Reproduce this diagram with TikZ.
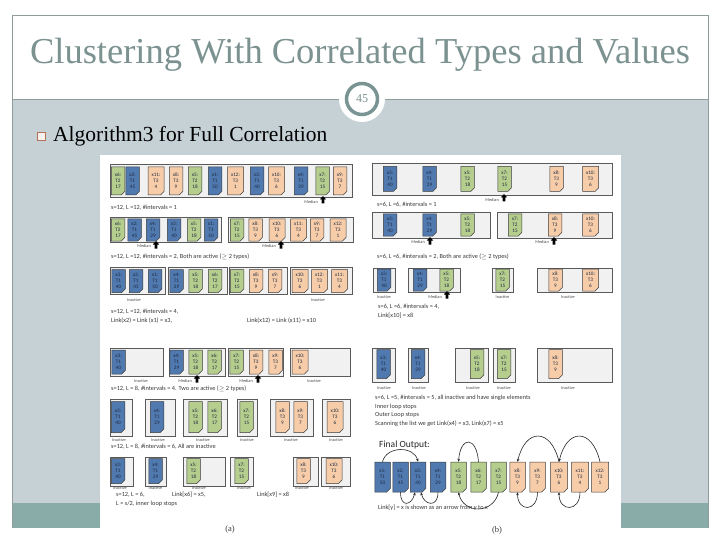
\documentclass[tikz,border=0pt]{standalone}
\usepackage{fontspec}
\setmainfont{Liberation Serif}
\newfontfamily\figf{Carlito}
\usetikzlibrary{shapes.misc,arrows.meta}
\definecolor{panel}{HTML}{C6D1D6}
\definecolor{bar}{HTML}{8AACA8}
\definecolor{ttl}{HTML}{7C9291}
\definecolor{framec}{HTML}{8E9C9C}
\definecolor{ring}{HTML}{7A9494}
\definecolor{bul}{HTML}{B5705A}
\definecolor{eb}{HTML}{5079AF}
\definecolor{eg}{HTML}{B5CD8D}
\definecolor{eo}{HTML}{F7CDA9}
\definecolor{eline}{HTML}{3C3C3C}
\definecolor{etext}{HTML}{1E2A40}
\definecolor{bline}{HTML}{5A5A5A}
\definecolor{bfill}{HTML}{F1F1F1}
\definecolor{captc}{HTML}{3A3A3A}
\definecolor{labc}{HTML}{4A4A4A}
\def\wone{13.5}
\def\wtwo{16}
\newcommand{\xel}[5]{%
  \ifcase#4\relax\or
    \def\xty{T1}\def\xva{50}\def\xco{eb}\or
    \def\xty{T1}\def\xva{45}\def\xco{eb}\or
    \def\xty{T1}\def\xva{40}\def\xco{eb}\or
    \def\xty{T1}\def\xva{29}\def\xco{eb}\or
    \def\xty{T2}\def\xva{18}\def\xco{eg}\or
    \def\xty{T2}\def\xva{17}\def\xco{eg}\or
    \def\xty{T2}\def\xva{15}\def\xco{eg}\or
    \def\xty{T3}\def\xva{9}\def\xco{eo}\or
    \def\xty{T3}\def\xva{7}\def\xco{eo}\or
    \def\xty{T3}\def\xva{6}\def\xco{eo}\or
    \def\xty{T3}\def\xva{4}\def\xco{eo}\or
    \def\xty{T3}\def\xva{1}\def\xco{eo}\fi
  \ifnum#4>9\relax\let\xew\wtwo\else\let\xew\wone\fi
  \node[elem,fill=\xco,minimum width=\xew pt,minimum height=#5pt] (#1) at (#2,#3) {x#4:\\\xty\\\xva};}
\begin{document}
\begin{tikzpicture}[x=1pt,y=-1pt,
  elem/.style={chamfered rectangle, chamfered rectangle corners=south east,
    chamfered rectangle xsep=1.8pt, chamfered rectangle ysep=1.8pt,
    draw=eline, line width=0.5pt, inner sep=0pt, align=center, text=etext,
    font=\figf\fontsize{5.2}{6}\selectfont},
  ibox/.style={draw=bline, fill=bfill, line width=0.6pt},
  captx/.style={anchor=west, inner sep=0pt, font=\figf\fontsize{6.3}{7}\selectfont, text=captc},
  labtx/.style={inner sep=0pt, font=\figf\fontsize{4.3}{5}\selectfont, text=labc},
  farr/.style={-{Stealth[length=3pt,width=2.6pt]}, line width=0.6pt, draw=black!85},
  marr/.pic={\fill[black] (0,0) -- (3.2,3.5) -- (1.4,3.5) -- (1.4,7.5) -- (-1.4,7.5) -- (-1.4,3.5) -- (-3.2,3.5) -- cycle;}
]
\useasboundingbox (0,0) rectangle (720,540);
\fill[white] (0,0) rectangle (720,540);
% slide frame and panels
\draw[framec, line width=0.8pt] (12,100) -- (12,15) -- (708,15) -- (708,100);
\fill[panel] (12,100) rectangle (708,503);
\fill[bar] (12,503) rectangle (708,528);
\draw[framec, line width=0.6pt] (12,100) -- (12,528) (708,100) -- (708,528);
\draw[framec, line width=0.9pt] (12,99.5) -- (708,99.5);
\node[circle, fill=white, minimum size=46pt, inner sep=0pt] (pcirc) at (362,99) {};
\node[circle, draw=ring, line width=3.5pt, minimum size=31pt, inner sep=0pt,
  font=\fontsize{12}{14}\selectfont, text=ttl] (pnum) at (362,99) {45};
\node[font=\fontsize{36.5}{42}\selectfont, text=ttl] (title) at (360,55) {Clustering With Correlated Types and Values};
\node[draw=bul, fill=white!90!bul, line width=0.6pt, minimum size=8pt, inner sep=0pt] (bsq) at (41,136) {};
\node[anchor=west, inner sep=0pt, font=\fontsize{21.5}{25}\selectfont] (btxt) at (53,136) {Algorithm3 for Full Correlation};
% embedded figure
\fill[white] (100,155) rectangle (621,540);

% ---------- (a) row 1
\draw[ibox] (110,164) rectangle (352,197);
\xel{a1e6}{118}{181}{6}{28}
\xel{a1e2}{132.5}{181}{2}{28}
\xel{a1e11}{156}{181}{11}{28}
\xel{a1e8}{176}{181}{8}{28}
\xel{a1e5}{195}{181}{5}{28}
\xel{a1e1}{215}{181}{1}{28}
\xel{a1e12}{235.5}{181}{12}{28}
\xel{a1e3}{257}{181}{3}{28}
\xel{a1e10}{276.5}{181}{10}{28}
\xel{a1e4}{301}{181}{4}{28}
\xel{a1e7}{322.5}{181}{7}{28}
\xel{a1e9}{340}{181}{9}{28}
\pic at (323,196) {marr};
\node[labtx, anchor=east] (a1m) at (318,202) {Median};
\node[captx] (a1t) at (111,208) {s=12, L =12, \#intervals = 1};

% ---------- (a) row 2
\draw[ibox] (110,217) rectangle (221,242);
\draw[ibox] (228,217) rectangle (353,242);
\xel{a2e6}{118}{230}{6}{22}
\xel{a2e2}{134.5}{230}{2}{22}
\xel{a2e4}{153}{230}{4}{22}
\xel{a2e3}{174}{230}{3}{22}
\xel{a2e5}{194}{230}{5}{22}
\xel{a2e1}{211}{230}{1}{22}
\xel{a2e7}{237}{230}{7}{22}
\xel{a2e8}{255.5}{230}{8}{22}
\xel{a2e10}{277}{230}{10}{22}
\xel{a2e11}{298.5}{230}{11}{22}
\xel{a2e9}{317}{230}{9}{22}
\xel{a2e12}{338}{230}{12}{22}
\pic at (156,241) {marr};
\node[labtx, anchor=east] (a2m1) at (151,246) {Median};
\pic at (281,241) {marr};
\node[labtx, anchor=east] (a2m2) at (276,246) {Median};
\node[captx] (a2t) at (111,257) {s=12, L =12, \#intervals = 2, Both are active (\ensuremath{\geq} 2 types)};

% ---------- (a) row 3
\draw[ibox] (110,267) rectangle (165,294);
\draw[ibox] (168,267) rectangle (227,294);
\draw[ibox] (229,267) rectangle (287,294);
\draw[ibox] (290,267) rectangle (352,294);
\xel{a3e3}{118.5}{281}{3}{23}
\xel{a3e2}{136}{281}{2}{23}
\xel{a3e1}{155}{281}{1}{23}
\xel{a3e4}{176.5}{281}{4}{23}
\xel{a3e5}{195.5}{281}{5}{23}
\xel{a3e6}{215}{281}{6}{23}
\xel{a3e7}{237}{281}{7}{23}
\xel{a3e8}{256}{281}{8}{23}
\xel{a3e9}{275}{281}{9}{23}
\xel{a3e10}{300}{281}{10}{23}
\xel{a3e12}{319.5}{281}{12}{23}
\xel{a3e11}{339.5}{281}{11}{23}
\node[labtx] (a3i1) at (134,300) {Inactive};
\node[labtx] (a3i2) at (318,300) {Inactive};
\node[captx] (a3t1) at (111,312) {s=12, L =12, \#intervals = 4,};
\node[captx] (a3t2) at (111,321) {Link(x2) = Link (x1) = x3,};
\node[captx] (a3t3) at (247,321) {Link(x12) = Link (x11) = x10};

% ---------- (a) row 4
\draw[ibox] (110,348) rectangle (163,376);
\draw[ibox] (169,348) rectangle (225,376);
\draw[ibox] (228,348) rectangle (283,376);
\draw[ibox] (290,348) rectangle (350,376);
\xel{a4e3}{118.5}{362}{3}{24}
\xel{a4e4}{176.5}{362}{4}{24}
\xel{a4e5}{195.5}{362}{5}{24}
\xel{a4e6}{214.5}{362}{6}{24}
\xel{a4e7}{236.5}{362}{7}{24}
\xel{a4e8}{256}{362}{8}{24}
\xel{a4e9}{275.5}{362}{9}{24}
\xel{a4e10}{300}{362}{10}{24}
\node[labtx] (a4i1) at (141,381) {Inactive};
\pic at (197,375) {marr};
\node[labtx, anchor=east] (a4m1) at (192,381) {Median};
\pic at (258,375) {marr};
\node[labtx, anchor=east] (a4m2) at (253,381) {Median};
\node[labtx] (a4i2) at (314,381) {Inactive};
\node[captx] (a4t) at (111,389) {s=12, L = 8, \#intervals = 4. Two are active (\ensuremath{\geq} 2 types)};

% ---------- (a) row 5
\draw[ibox] (110,399) rectangle (132,436);
\draw[ibox] (145,399) rectangle (175,436);
\draw[ibox] (183,399) rectangle (227,436);
\draw[ibox] (237,399) rectangle (257,436);
\draw[ibox] (270,399) rectangle (313,436);
\draw[ibox] (322,399) rectangle (350,436);
\xel{a5e3}{118}{417}{3}{31}
\xel{a5e4}{157}{417}{4}{31}
\xel{a5e5}{195.5}{417}{5}{31}
\xel{a5e6}{214.5}{417}{6}{31}
\xel{a5e7}{246.5}{417}{7}{31}
\xel{a5e8}{282.5}{417}{8}{31}
\xel{a5e9}{300.5}{417}{9}{31}
\xel{a5e10}{335}{417}{10}{31}
\node[labtx] (a5i1) at (119,440) {Inactive};
\node[labtx] (a5i2) at (158,440) {Inactive};
\node[labtx] (a5i3) at (203,440) {Inactive};
\node[labtx] (a5i4) at (247,440) {Inactive};
\node[labtx] (a5i5) at (291,440) {Inactive};
\node[labtx] (a5i6) at (336,440) {Inactive};
\node[captx] (a5t) at (111,447) {s=12, L = 8, \#intervals = 6, All are inactive};

% ---------- (a) row 6
\draw[ibox] (110,457) rectangle (133,486);
\draw[ibox] (145,457) rectangle (166,486);
\draw[ibox] (183,457) rectangle (225,486);
\draw[ibox] (230,457) rectangle (253,486);
\draw[ibox] (293,457) rectangle (318,486);
\draw[ibox] (321,457) rectangle (350,486);
\xel{a6e3}{118}{471}{3}{25}
\xel{a6e4}{155.5}{471}{4}{25}
\xel{a6e5}{193.5}{471}{5}{25}
\xel{a6e7}{241.5}{471}{7}{25}
\xel{a6e8}{303.5}{471}{8}{25}
\xel{a6e10}{334}{471}{10}{25}
\node[labtx] (a6i1) at (120,488.5) {Inactive};
\node[labtx] (a6i2) at (155.5,488.5) {Inactive};
\node[labtx] (a6i3) at (199,488.5) {Inactive};
\node[labtx] (a6i4) at (244,488.5) {Inactive};
\node[labtx] (a6i5) at (302,488.5) {Inactive};
\node[labtx] (a6i6) at (336,488.5) {Inactive};
\node[captx] (a6t1) at (116,495) {s=12, L = 6,};
\node[captx] (a6t2) at (172,495) {Link[x6] = x5,};
\node[captx] (a6t3) at (257,495) {Link[x9] = x8};
\node[captx] (a6t4) at (116,504) {L = s/2, inner loop stops};
\node[font=\fontsize{8.5}{10}\selectfont, text=captc] (capa) at (230,529) {(a)};

% ---------- (b) row 1
\draw[ibox] (372,163) rectangle (612,195);
\xel{b1e3}{390}{179}{3}{25}
\xel{b1e4}{429.5}{179}{4}{25}
\xel{b1e5}{467.5}{179}{5}{25}
\xel{b1e7}{504.5}{179}{7}{25}
\xel{b1e8}{556.5}{179}{8}{25}
\xel{b1e10}{590.5}{179}{10}{25}
\pic at (504,194) {marr};
\node[labtx, anchor=east] (b1m) at (499,200) {Median};
\node[captx] (b1t) at (377,205) {s=6, L =6, \#intervals = 1};

% ---------- (b) row 2
\draw[ibox] (372,212) rectangle (490,238);
\draw[ibox] (497,212) rectangle (612,238);
\xel{b2e3}{390}{225}{3}{22}
\xel{b2e4}{429.5}{225}{4}{22}
\xel{b2e5}{467.5}{225}{5}{22}
\xel{b2e7}{515}{225}{7}{22}
\xel{b2e8}{555}{225}{8}{22}
\xel{b2e10}{590.5}{225}{10}{22}
\pic at (430,237) {marr};
\node[labtx, anchor=east] (b2m1) at (425,242) {Median};
\pic at (554,237) {marr};
\node[labtx, anchor=east] (b2m2) at (549,242) {Median};
\node[captx] (b2t) at (377,257) {s=6, L =6, \#intervals = 2, Both are active (\ensuremath{\geq} 2 types)};

% ---------- (b) row 3
\draw[ibox] (373,268) rectangle (395,292);
\draw[ibox] (408,268) rectangle (460,292);
\draw[ibox] (492,268) rectangle (513,292);
\draw[ibox] (537,268) rectangle (612,292);
\xel{b3e3}{384}{280}{3}{22}
\xel{b3e4}{420}{280}{4}{22}
\xel{b3e5}{446.5}{280}{5}{22}
\xel{b3e7}{502.5}{280}{7}{22}
\xel{b3e8}{555.5}{280}{8}{22}
\xel{b3e10}{590.5}{280}{10}{22}
\node[labtx] (b3i1) at (384,297) {Inactive};
\pic at (447,291) {marr};
\node[labtx, anchor=east] (b3m) at (442,297) {Median};
\node[labtx] (b3i2) at (502.5,297) {Inactive};
\node[labtx] (b3i3) at (568,297) {Inactive};
\node[captx] (b3t1) at (378,307) {s=6, L =6, \#intervals = 4,};
\node[captx] (b3t2) at (378,315.5) {Link[x10] = x8};

% ---------- (b) row 4
\draw[ibox] (372,348) rectangle (395,382);
\draw[ibox] (408,348) rectangle (428,382);
\draw[ibox] (455,348) rectangle (488,382);
\draw[ibox] (493,348) rectangle (515,382);
\draw[ibox] (537,348) rectangle (612,382);
\xel{b4e3}{383.5}{364}{3}{29}
\xel{b4e4}{418}{364}{4}{29}
\xel{b4e5}{477}{364}{5}{29}
\xel{b4e7}{504}{364}{7}{29}
\xel{b4e8}{555.5}{364}{8}{29}
\node[labtx] (b4i1) at (384,388) {Inactive};
\node[labtx] (b4i2) at (419,388) {Inactive};
\node[labtx] (b4i3) at (473,388) {Inactive};
\node[labtx] (b4i4) at (504,388) {Inactive};
\node[labtx] (b4i5) at (568,388) {Inactive};
\node[captx] (b4t1) at (375,398) {s=6, L =5, \#intervals = 5, all inactive and have single elements};
\node[captx] (b4t2) at (375,406.5) {Inner loop stops};
\node[captx] (b4t3) at (375,415) {Outer Loop stops};
\node[captx] (b4t4) at (375,423.5) {Scanning the list we get Link(x4) = x3, Link(x7) = x5};

% ---------- (b) final output
\node[anchor=west, inner sep=0pt, font=\figf\fontsize{9.5}{11}\selectfont, text=black!85] (fout) at (379,445) {Final Output:};
\def\wone{15.5}
\def\wtwo{17}
\xel{f1}{382.5}{477}{1}{30}
\xel{f2}{400.5}{477}{2}{30}
\xel{f3}{418}{477}{3}{30}
\xel{f4}{438}{477}{4}{30}
\xel{f5}{458.5}{477}{5}{30}
\xel{f6}{478.5}{477}{6}{30}
\xel{f7}{498.5}{477}{7}{30}
\xel{f8}{517.5}{477}{8}{30}
\xel{f9}{537.5}{477}{9}{30}
\xel{f10}{559}{477}{10}{30}
\xel{f11}{580}{477}{11}{30}
\xel{f12}{600}{477}{12}{30}
\draw[farr] (f1.north) .. controls +(4,-16) and +(-4,-16) .. (f3.north);
\draw[farr] (f6.north) .. controls +(-2,-26) and +(2,-26) .. (f5.north);
\draw[farr] (f10.north) .. controls +(-8,-34) and +(8,-34) .. (f8.north);
\draw[farr] (f12.north) .. controls +(-8,-34) and +(8,-34) .. (f10.north);
\draw[farr] (f2.south) .. controls +(0,16) and +(-3,13) .. ([xshift=-3pt]f3.south);
\draw[farr] (f4.south) .. controls +(0,16) and +(3,13) .. ([xshift=3pt]f3.south);
\draw[farr] (f7.south) .. controls +(-5,22) and +(5,22) .. (f5.south);
\draw[farr] (f9.south) .. controls +(0,20) and +(0,20) .. (f8.south);
\draw[farr] (f11.south) .. controls +(0,20) and +(0,20) .. (f10.south);
\node[captx] (ft) at (378,508) {Link[y] = x is shown as an arrow from y to x};
\node[font=\fontsize{8.5}{10}\selectfont, text=captc] (capb) at (497,530) {(b)};
\end{tikzpicture}
\end{document}
